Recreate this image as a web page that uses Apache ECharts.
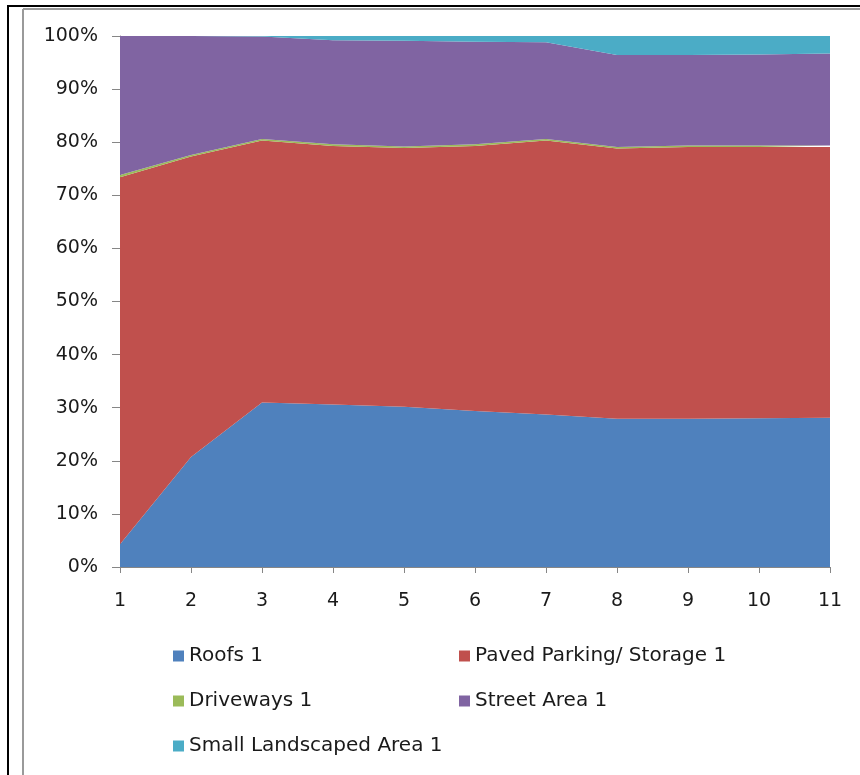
<!DOCTYPE html>
<html>
<head>
<meta charset="utf-8">
<style>
  html, body { margin: 0; padding: 0; background: #fff; }
  #chart { width: 860px; height: 775px; }
</style>
<script src="https://cdn.jsdelivr.net/npm/echarts@6/dist/echarts.min.js"></script>
</head>
<body>
<div id="chart"></div>
<script>
// Land-cover shares per scenario (percent of total area)
const categories = ['1', '2', '3', '4', '5', '6', '7', '8', '9', '10', '11'];
const roofs      = [4.3, 20.7, 31.0, 30.6, 30.2, 29.4, 28.7, 27.9, 27.9, 28.0, 28.1];
const paved      = [69.1, 56.6, 49.3, 48.7, 48.7, 49.9, 51.6, 50.9, 51.2, 51.1, 51.0];
const driveways  = [0.4, 0.3, 0.3, 0.3, 0.3, 0.3, 0.3, 0.3, 0.3, 0.3, 0.3];
const street     = [26.2, 22.4, 19.3, 19.6, 19.9, 19.3, 18.2, 17.3, 17.0, 17.1, 17.3];
const landscaped = [0.0, 0.0, 0.1, 0.8, 0.9, 1.1, 1.2, 3.6, 3.6, 3.5, 3.3];

const seriesNames = ['Roofs 1', 'Paved Parking/ Storage 1', 'Driveways 1', 'Street Area 1', 'Small Landscaped Area 1'];
const seriesValues = [roofs, paved, driveways, street, landscaped];
const colors = ['#4F81BD', '#C0504D', '#9BBB59', '#8064A2', '#4BACC6'];

// 100% stacking: each column is scaled to its own total
const totals = categories.map((_, i) => seriesValues.reduce((s, arr) => s + arr[i], 0));
const shares = seriesValues.map(arr => arr.map((v, i) => v / totals[i] * 100));

const FONT = 'DejaVu Sans';
const TEXT = '#1a1a1a';
const axisGray = '#868686';

const chart = echarts.init(document.getElementById('chart'), null, { renderer: 'canvas' });

const legendText = { fontFamily: FONT, fontSize: 20, color: TEXT };

chart.setOption({
  backgroundColor: '#ffffff',
  animation: false,
  color: colors,
  grid: { left: 120, right: 30, top: 36, bottom: 208, containLabel: false },
  xAxis: {
    type: 'category',
    data: categories,
    boundaryGap: false,
    axisLine: { lineStyle: { color: axisGray, width: 1 } },
    axisTick: { show: true, length: 6, lineStyle: { color: axisGray } },
    axisLabel: { margin: 25, fontFamily: FONT, fontSize: 19, color: TEXT },
    splitLine: { show: false }
  },
  yAxis: {
    type: 'value',
    min: 0,
    max: 100,
    interval: 10,
    axisLine: { show: true, lineStyle: { color: axisGray, width: 1 } },
    axisTick: { show: true, length: 8, lineStyle: { color: axisGray } },
    axisLabel: {
      margin: 22, formatter: '{value}%', fontFamily: FONT, fontSize: 19, color: TEXT,
      padding: [5, 0, 0, 0]
    },
    splitLine: { show: false }
  },
  legend: [
    {
      data: [seriesNames[0], seriesNames[2], seriesNames[4]],
      orient: 'vertical',
      left: 168,
      top: 641,
      itemGap: 25,
      itemWidth: 11,
      itemHeight: 11,
      icon: 'rect',
      textStyle: legendText,
      selectedMode: false
    },
    {
      data: [seriesNames[1], seriesNames[3]],
      orient: 'vertical',
      left: 454,
      top: 641,
      itemGap: 25,
      itemWidth: 11,
      itemHeight: 11,
      icon: 'rect',
      textStyle: legendText,
      selectedMode: false
    }
  ],
  series: seriesNames.map((name, k) => ({
    name: name,
    type: 'line',
    stack: 'total',
    data: shares[k],
    symbol: 'none',
    showSymbol: false,
    lineStyle: { width: 0 },
    areaStyle: { color: colors[k], opacity: 1 },
    itemStyle: { color: colors[k] },
    emphasis: { disabled: true }
  })),
  graphic: [
    // outer frame: dark rules along the top and left, with a lighter inner rule
    { type: 'line', shape: { x1: 7, y1: 6, x2: 860, y2: 6 }, style: { stroke: '#000', lineWidth: 2 }, silent: true },
    { type: 'line', shape: { x1: 8, y1: 5, x2: 8, y2: 775 }, style: { stroke: '#000', lineWidth: 2 }, silent: true },
    { type: 'line', shape: { x1: 23, y1: 9, x2: 860, y2: 9 }, style: { stroke: '#9a9a9a', lineWidth: 2 }, silent: true },
    { type: 'line', shape: { x1: 23, y1: 9, x2: 23, y2: 775 }, style: { stroke: '#9a9a9a', lineWidth: 2 }, silent: true }
  ]
});
</script>
</body>
</html>
